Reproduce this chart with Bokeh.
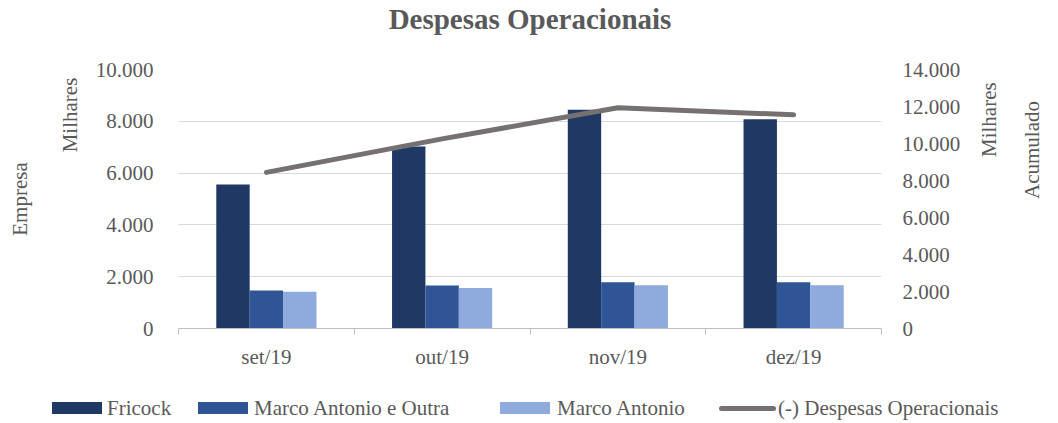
import math
from bokeh.plotting import figure
from bokeh.layouts import column
from bokeh.models import (ColumnDataSource, Range1d, LinearAxis, FixedTicker, Title, Div)
from bokeh.transform import dodge
from bokeh.embed import file_html
from bokeh.resources import INLINE

# ---- data ----
months = ["set/19", "out/19", "nov/19", "dez/19"]
fricock = [5560, 7030, 8450, 8080]
marco_outra = [1470, 1660, 1790, 1790]
marco = [1420, 1560, 1670, 1670]
despesas = [8440, 10250, 11930, 11550]
left_ticks = [0, 2000, 4000, 6000, 8000, 10000]
right_ticks = [0, 2000, 4000, 6000, 8000, 10000, 12000, 14000]
series_names = ["Fricock", "Marco Antonio e Outra", "Marco Antonio", "(-) Despesas Operacionais"]
title_text = "Despesas Operacionais"

FONT = "Liberation Serif"
TEXT = "#595959"
GRID = "#D9D9D9"
C1, C2, C3, CL = "#203864", "#2F5597", "#8FAADC", "#767171"

W, H = 1058, 423
LH = 30                      # legend strip height
PH = H - LH                  # chart height
FL, FR, FT, FB = 178, 881, 69, 328
LEFT_PAD = "\u2003" * 8      # shifts the left "Milhares" toward the top of the axis
RIGHT_PAD = "\u2003" * 2     # same for the right one (label starts at the axis middle)


def fmt(v):
    return f"{v:,}".replace(",", ".")


xs = [i + 0.5 for i in range(len(months))]
src = ColumnDataSource(dict(x=xs, month=months, fricock=fricock, marco_outra=marco_outra,
                            marco=marco, despesas=despesas))

p = figure(width=W, height=PH, output_backend="svg", toolbar_location=None,
           x_range=Range1d(0, len(months)), y_range=Range1d(0, 10000),
           min_border_left=FL, min_border_right=W - FR,
           min_border_top=FT, min_border_bottom=PH - FB)
p.outline_line_color = None
p.background_fill_color = "white"
p.border_fill_color = "white"
p.extra_y_ranges = {"acc": Range1d(0, 14000)}

# spacer between the frame and the title (inner above panel)
p.add_layout(Title(text=" ", text_font_size="1px", standoff=32), "above")
# title (outermost above panel)
p.title.text = title_text
p.title.align = "center"
p.title.text_font = FONT
p.title.text_font_size = "29px"
p.title.text_font_style = "bold"
p.title.text_color = TEXT
p.title.standoff = 0

# x axis
xa = p.xaxis[0]
xa.ticker = FixedTicker(ticks=xs, minor_ticks=[float(i) for i in range(len(months) + 1)])
xa.major_label_overrides = {x: m for x, m in zip(xs, months)}
xa.major_tick_out = 0
xa.major_tick_in = 0
xa.minor_tick_out = 6
xa.minor_tick_in = 0
xa.minor_tick_line_color = "#BFBFBF"
xa.axis_line_color = "#BFBFBF"
xa.major_label_standoff = 10
xa.major_label_text_font = FONT
xa.major_label_text_font_size = "21px"
xa.major_label_text_color = TEXT
p.xgrid.visible = False

# left axis (values)
ya = p.yaxis[0]
ya.ticker = FixedTicker(ticks=left_ticks)
ya.major_label_overrides = {t: fmt(t) for t in left_ticks}
ya.axis_line_color = None
ya.major_tick_line_color = None
ya.minor_tick_line_color = None
ya.major_tick_out = 0
ya.minor_tick_out = 0
ya.major_label_standoff = 25
ya.major_label_text_font = FONT
ya.major_label_text_font_size = "21px"
ya.major_label_text_color = TEXT
p.ygrid.ticker = FixedTicker(ticks=left_ticks)
p.ygrid.grid_line_color = GRID

# right axis (values)
ra = LinearAxis(y_range_name="acc", ticker=FixedTicker(ticks=right_ticks))
ra.major_label_overrides = {t: fmt(t) for t in right_ticks}
ra.axis_line_color = None
ra.major_tick_line_color = None
ra.minor_tick_line_color = None
ra.major_tick_out = 0
ra.minor_tick_out = 0
ra.major_label_standoff = 21
ra.major_label_text_font = FONT
ra.major_label_text_font_size = "21px"
ra.major_label_text_color = TEXT
p.add_layout(ra, "right")


def label_axis(text, standoff, range_name="default", orientation="parallel"):
    kw = {} if range_name == "default" else {"y_range_name": range_name}
    ax = LinearAxis(ticker=FixedTicker(ticks=[0]), axis_label=text, **kw)
    ax.major_label_overrides = {0: ""}
    ax.major_label_text_font_size = "0px"
    ax.axis_line_color = None
    ax.major_tick_line_color = None
    ax.minor_tick_line_color = None
    ax.major_tick_out = 0
    ax.major_tick_in = 0
    ax.minor_tick_out = 0
    ax.minor_tick_in = 0
    ax.major_label_standoff = 0
    ax.axis_label_standoff = standoff
    ax.axis_label_text_font = FONT
    ax.axis_label_text_font_size = "21px"
    ax.axis_label_text_font_style = "normal"
    ax.axis_label_text_color = TEXT
    ax.axis_label_orientation = orientation
    return ax


p.add_layout(label_axis(LEFT_PAD + "Milhares", 11), "left")
p.add_layout(label_axis("Empresa", 23), "left")
p.add_layout(label_axis(RIGHT_PAD + "Milhares", 25, "acc", math.pi / 2), "right")
p.add_layout(label_axis("Acumulado", 16, "acc", math.pi / 2), "right")

# bars and line
bw = 0.19
p.vbar(x=dodge("x", -bw, range=p.x_range), top="fricock", width=bw, source=src,
       fill_color=C1, line_color=None)
p.vbar(x=dodge("x", 0, range=p.x_range), top="marco_outra", width=bw, source=src,
       fill_color=C2, line_color=None)
p.vbar(x=dodge("x", bw, range=p.x_range), top="marco", width=bw, source=src,
       fill_color=C3, line_color=None)
p.line(x="x", y="despesas", source=src, y_range_name="acc", line_color=CL,
       line_width=5, line_cap="round", line_join="round")

# legend strip
legend_left = [52, 198, 500, 719]
swatches = [
    f"display:inline-block;width:50px;height:12px;background:{C1};margin-right:5px",
    f"display:inline-block;width:50px;height:12px;background:{C2};margin-right:6px",
    f"display:inline-block;width:50px;height:12px;background:{C3};margin-right:7px",
    f"display:inline-block;width:57px;height:5px;border-radius:3px;background:{CL};margin-right:2px",
]
items = "".join(
    f'<div style="position:absolute;left:{x}px;top:0;height:{LH}px;display:flex;'
    f'align-items:center;white-space:nowrap"><span style="{sw}"></span>{name}</div>'
    for x, sw, name in zip(legend_left, swatches, series_names))
legend_html = (f'<div style="position:relative;width:{W}px;height:{LH}px;'
               f"font-family:'{FONT}',serif;font-size:21px;color:{TEXT};"
               f'line-height:1">{items}</div>')
legend_div = Div(text=legend_html, width=W, height=LH, margin=0)

page = column(p, legend_div, spacing=0)
open("out.html", "w").write(file_html(page, INLINE))
